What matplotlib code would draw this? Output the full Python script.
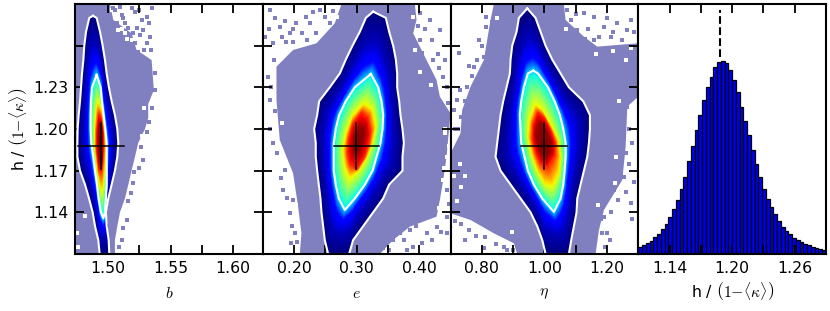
import numpy as np
import matplotlib
matplotlib.use('Agg')
import matplotlib.pyplot as plt

plt.rcParams['mathtext.fontset'] = 'cm'

PURPLE = '#8080c0'
LEVELS = [0.0, 0.33, 0.65, 0.87, 0.98]   # outer, inner, yellow, red, peak

# contour rows, one (left, right) per y
outer_y = [1.28, 1.27, 1.26, 1.25, 1.24, 1.23, 1.22, 1.21, 1.20, 1.19, 1.18, 1.17, 1.16, 1.15, 1.14, 1.13, 1.12, 1.11]

# --- b ---
b_outer_left = [1.4850, 1.4824, 1.4810, 1.4803, 1.4792, 1.4784, 1.4776, 1.4765, 1.4757, 1.4755, 1.4755, 1.4776, 1.4816, 1.4848, 1.4877, 1.4896, 1.4922, 1.4933]
b_outer_right = [1.4909, 1.4936, 1.4957, 1.4975, 1.4989, 1.5007, 1.5029, 1.5055, 1.5074, 1.5082, 1.5074, 1.5055, 1.5029, 1.5002, 1.4983, 1.4989, 1.5005, 1.5010]
b_outer_top = (1.4880, 1.2815)
b_inner_y = [1.23, 1.22, 1.21, 1.20, 1.19, 1.18, 1.17, 1.16, 1.15, 1.14]
b_inner_left = [1.4872, 1.4864, 1.4861, 1.4861, 1.4866, 1.4882, 1.4896, 1.4912, 1.4925, 1.4943]
b_inner_right = [1.4941, 1.4951, 1.4965, 1.4978, 1.4989, 1.4989, 1.4989, 1.4989, 1.4983, 1.4975]
b_inner_top = (1.4909, 1.2390)
b_inner_bottom = (1.4962, 1.1357)
b_yellow = [(1.4917, 1.2185), (1.4901, 1.2017), (1.4898, 1.1873), (1.4922, 1.1681), (1.4949, 1.1561), (1.4965, 1.1681), (1.4978, 1.1849), (1.4967, 1.1993), (1.4943, 1.2137)]
b_red = [(1.4928, 1.2101), (1.4914, 1.1969), (1.4914, 1.1849), (1.4930, 1.1717), (1.4946, 1.1705), (1.4957, 1.1849), (1.4957, 1.1969), (1.4943, 1.2065)]
b_peak = [(1.4936, 1.2029), (1.4928, 1.1921), (1.4933, 1.1801), (1.4946, 1.1753), (1.4951, 1.1873), (1.4949, 1.1969)]
b_cloud = [(1.4736, 1.29), (1.5015, 1.29), (1.5042, 1.2785), (1.5188, 1.2689), (1.5228, 1.2569), (1.5348, 1.2497), (1.5366, 1.2281), (1.5321, 1.2180), (1.5321, 1.2080), (1.5295, 1.20), (1.5241, 1.19), (1.5215, 1.18), (1.5188, 1.17), (1.5162, 1.16), (1.5135, 1.15), (1.5095, 1.14), (1.5074, 1.13), (1.5055, 1.12), (1.5055, 1.11), (1.4736, 1.11)]
b_dots = [(1.5055, 1.2857), (1.5108, 1.2821), (1.5135, 1.2761), (1.5201, 1.2689), (1.5268, 1.2785), (1.5308, 1.2809), (1.5348, 1.2869), (1.5281, 1.2713), (1.5215, 1.2617), (1.5162, 1.2593), (1.5335, 1.2665), (1.5241, 1.2557), (1.5188, 1.2869), (1.5095, 1.2881), (1.5374, 1.2281), (1.5308, 1.1981), (1.5281, 1.1777), (1.5201, 1.1609), (1.5148, 1.1345), (1.5090, 1.1153),
          (1.5040, 1.2870), (1.5075, 1.2760), (1.5120, 1.2800), (1.5160, 1.2730), (1.5230, 1.2730), (1.5255, 1.2680), (1.5310, 1.2620), (1.5345, 1.2570), (1.5290, 1.2570), (1.5215, 1.2840), (1.5250, 1.2860), (1.5330, 1.2760), (1.5375, 1.2400), (1.5350, 1.2150), (1.5330, 1.2050), (1.5260, 1.1870), (1.5245, 1.1720), (1.5210, 1.1690), (1.5185, 1.1540), (1.5160, 1.1480), (1.5120, 1.1290), (1.5110, 1.1200)]
b_holes = [(1.5029, 1.2857), (1.5069, 1.2785), (1.5135, 1.2689), (1.5188, 1.2641), (1.5082, 1.2713), (1.4816, 1.1373), (1.4763, 1.1153), (1.4755, 1.1249), (1.5155, 1.2650), (1.5115, 1.2720), (1.5230, 1.2620), (1.5290, 1.2150), (1.5270, 1.1950)]
b_center = (1.4941, 1.188)
b_err = (0.0184, 0.0165)

# --- e ---
e_outer_left = [.3147, .3051, .2934, .2827, .2731, .2571, .2401, .2369, .2321, .2347, .2347, .2369, .2395, .2422, .2438, .2465, .2491, .2545]
e_outer_right = [.3467, .3520, .3584, .3627, .3648, .3648, .3680, .3701, .3733, .3755, .3733, .3733, .3520, .3424, .3264, .3104, .2944, .2880]
e_outer_top = (.3264, 1.2845)
e_inner_y = [1.23, 1.22, 1.21, 1.20, 1.19, 1.18, 1.17, 1.16, 1.15]
e_inner_left = [.2971, .2827, .2721, .2667, .2635, .2635, .2635, .2667, .2715]
e_inner_right = [.3344, .3397, .3424, .3413, .3381, .3318, .3254, .3131, .2971]
e_inner_top = (.3227, 1.2396)
e_inner_bottom = (.2811, 1.1417)
e_yellow = [(.3115, 1.2174), (.2944, 1.2089), (.2848, 1.1969), (.2795, 1.1849), (.2827, 1.1729), (.2891, 1.1657), (.3024, 1.1705), (.3158, 1.1801), (.3238, 1.1897), (.3291, 1.2017), (.3238, 1.2137)]
e_red = [(.3078, 1.2113), (.2944, 1.2029), (.2880, 1.1921), (.2864, 1.1825), (.2902, 1.1753), (.2998, 1.1717), (.3115, 1.1801), (.3184, 1.1897), (.3211, 1.1981), (.3168, 1.2077)]
e_peak = [(.3051, 1.2005), (.2971, 1.1933), (.2960, 1.1849), (.3024, 1.1849), (.3104, 1.1933), (.3115, 1.1993)]
e_cloud = [(.2758, 1.29), (.3930, 1.29), (.3957, 1.2785), (.3904, 1.2689), (.4117, 1.2497), (.4277, 1.2353), (.4330, 1.2233), (.45, 1.2113), (.4437, 1.1801), (.4384, 1.1633), (.4330, 1.1489), (.4277, 1.1369), (.3851, 1.1297), (.3584, 1.1201), (.3371, 1.11), (.2092, 1.11), (.2118, 1.1249), (.2065, 1.1441), (.1985, 1.1681), (.1772, 1.1921), (.1719, 1.2209), (.1719, 1.2449), (.1985, 1.2569), (.2358, 1.2617), (.2651, 1.2761)]
e_dots = [(.1612, 1.2857), (.1772, 1.2737), (.1932, 1.2689), (.2038, 1.2761), (.2198, 1.2809), (.2411, 1.2857), (.2571, 1.2761), (.1665, 1.2617), (.1532, 1.2665), (.1878, 1.2629), (.2358, 1.2689), (.1585, 1.2377), (.1772, 1.2137), (.1665, 1.1897), (.1852, 1.1705), (.1932, 1.1393), (.2012, 1.1249), (.1985, 1.1489), (.1612, 1.2209), (.4010, 1.2833), (.4170, 1.2785), (.4330, 1.2713), (.4010, 1.2641), (.4224, 1.2497), (.4384, 1.2377), (.4117, 1.2425), (.4463, 1.2185), (.4357, 1.2089), (.3584, 1.1201), (.3851, 1.1273), (.4117, 1.1249), (.4277, 1.1297), (.3904, 1.1153), (.4437, 1.1369), (.3691, 1.1249), (.3424, 1.1141),
          (.1700, 1.2800), (.1850, 1.2780), (.1990, 1.2720), (.2120, 1.2690), (.2260, 1.2760), (.2490, 1.2810), (.2630, 1.2850), (.2300, 1.2840), (.1800, 1.2660), (.1600, 1.2720), (.1990, 1.2630), (.2200, 1.2640), (.1680, 1.2500), (.1630, 1.2300), (.1690, 1.2130), (.1610, 1.2000), (.1730, 1.1830), (.1790, 1.1650), (.1830, 1.1560), (.1890, 1.1500), (.1960, 1.1300), (.2040, 1.1190), (.1950, 1.1180), (.4100, 1.2720), (.4040, 1.2550), (.4210, 1.2640), (.4300, 1.2540), (.4420, 1.2500), (.4450, 1.2300), (.4310, 1.2440), (.3980, 1.2740), (.3750, 1.1200), (.3950, 1.1300), (.4050, 1.1180), (.4200, 1.1200), (.4350, 1.1260), (.4450, 1.1250), (.3520, 1.1130), (.3800, 1.1130), (.4440, 1.1560), (.4470, 1.1460)]
e_holes = [(.4410, 1.1969), (.4437, 1.1801), (.4384, 1.1633), (.4357, 1.1441), (.2038, 1.2617), (.3904, 1.2809), (.4420, 1.2000), (.4470, 1.1880), (.4400, 1.1720), (.4460, 1.1650), (.4310, 1.1430), (.2030, 1.1450), (.1800, 1.2040), (.2680, 1.2810), (.3930, 1.2570), (.4020, 1.2410), (.4190, 1.2320)]
e_center = (.2998, 1.188)
e_err = (0.0363, 0.0165)

# --- eta ---
n_outer_left = [.9185, .9111, .8972, .8919, .8897, .8791, .8684, .8599, .8546, .8492, .8439, .8599, .8919, .9239, .9558, .9772, .9932, 1.0038]
n_outer_right = [.9718, .9878, 1.0038, 1.0251, 1.0518, 1.0784, 1.1243, 1.1456, 1.1456, 1.1424, 1.1371, 1.1264, 1.1157, 1.1051, 1.1029, 1.0944, 1.0859, 1.0784]
n_outer_top = (.9452, 1.2868)
n_inner_y = [1.24, 1.23, 1.22, 1.21, 1.20, 1.19, 1.18, 1.17, 1.16, 1.15]
n_inner_left = [.9473, .9345, .9260, .9217, .9239, .9260, .9367, .9473, .9665, .9932]
n_inner_right = [.9793, 1.0113, 1.0326, 1.0496, 1.0603, 1.0678, 1.0678, 1.0646, 1.0603, 1.0518]
n_inner_top = (.9644, 1.2420)
n_inner_bottom = (1.0305, 1.1403)
n_yellow = [(.9718, 1.2166), (.9558, 1.2065), (.9505, 1.1945), (.9612, 1.1825), (.9793, 1.1705), (1.0038, 1.1609), (1.0251, 1.1597), (1.0433, 1.1681), (1.0496, 1.1801), (1.0411, 1.1921), (1.0145, 1.2041), (.9900, 1.2137)]
n_red = [(.9793, 1.2113), (.9665, 1.2029), (.9644, 1.1921), (.9750, 1.1825), (.9900, 1.1753), (1.0091, 1.1734), (1.0305, 1.1813), (1.0326, 1.1897), (1.0198, 1.1981), (.9985, 1.2077)]
n_peak = [(.9825, 1.2029), (.9750, 1.1945), (.9878, 1.1849), (1.0038, 1.1801), (1.0177, 1.1849), (1.0177, 1.1909), (1.0038, 1.1981), (.9900, 1.2029)]
n_cloud = [(.8386, 1.29), (1.0624, 1.29), (1.0678, 1.2785), (1.1264, 1.2665), (1.1690, 1.2593), (1.30, 1.2617), (1.30, 1.2233), (1.2650, 1.2161), (1.2597, 1.1873), (1.2490, 1.1633), (1.1904, 1.1417), (1.1744, 1.1273), (1.1637, 1.11), (.9132, 1.11), (.9025, 1.1177), (.8386, 1.1249), (.7640, 1.1345), (.70, 1.1393), (.70, 1.1825), (.7320, 1.1969), (.7373, 1.2137), (.7640, 1.2305), (.8066, 1.2497), (.8279, 1.2785)]
n_dots = [(.8333, 1.2773), (.8119, 1.2737), (.7906, 1.2641), (.8066, 1.2521), (.7746, 1.2449), (.7267, 1.2545), (.7533, 1.2305), (.7213, 1.2209), (.7320, 1.2089), (.7107, 1.2137), (1.0838, 1.2785), (1.1264, 1.2833), (1.1584, 1.2809), (1.1904, 1.2737), (1.2330, 1.2761), (1.2650, 1.2713), (1.1051, 1.2713), (1.1584, 1.2641), (1.2117, 1.2665), (1.2756, 1.2785), (1.0731, 1.2857), (.7426, 1.1517), (.7853, 1.1373), (.8279, 1.1325), (.7320, 1.1313), (.8706, 1.1153), (.8066, 1.1141), (1.1904, 1.1369), (1.2223, 1.1561), (1.2543, 1.1657), (1.2756, 1.1465), (1.2010, 1.1249), (1.1797, 1.1349), (1.2597, 1.1825), (1.2650, 1.2161),
          (.8150, 1.2810), (.8250, 1.2650), (.8000, 1.2600), (.7850, 1.2500), (.7700, 1.2380), (.7600, 1.2450), (.7450, 1.2200), (.7300, 1.2280), (.7150, 1.2000), (.7250, 1.2000), (1.1000, 1.2830), (1.1400, 1.2720), (1.1750, 1.2660), (1.2000, 1.2800), (1.2200, 1.2700), (1.2480, 1.2640), (1.2850, 1.2700), (1.1300, 1.2650), (.7150, 1.1340), (.7600, 1.1270), (.7800, 1.1230), (.8100, 1.1220), (.8450, 1.1170), (.8800, 1.1130), (.9000, 1.1130), (.7450, 1.1200), (1.1850, 1.1250), (1.1950, 1.1150), (1.2120, 1.1400), (1.2350, 1.1490), (1.2600, 1.1550), (1.2850, 1.1620), (1.2800, 1.1350), (1.2100, 1.1200), (1.2700, 1.2000), (1.2800, 1.1900), (1.2690, 1.1750)]
n_holes = [(1.2597, 1.2497), (1.2756, 1.2585), (.7320, 1.1585), (.7107, 1.1661), (1.2200, 1.2561), (.7200, 1.1480), (.7450, 1.1660), (.7300, 1.1750), (.8500, 1.2800), (1.0700, 1.2720), (1.1650, 1.2540), (1.2400, 1.2200), (1.2300, 1.1800), (1.2250, 1.1610), (1.1700, 1.1450), (.8950, 1.1260)]
n_center = (.9985, 1.188)
n_err = (0.0725, 0.0165)

# --- histogram ---
hist_edges_lo = 1.11
hist_edges_hi = 1.29
hist_values = [.038, .047, .059, .069, .086, .104, .130, .157, .190, .231, .280, .339, .401, .480, .560, .641, .718, .796, .867, .919, .971, .995, 1.0, .988, .953, .902, .841, .760, .691, .615, .539, .466, .397, .335, .285, .245, .206, .171, .142, .119, .102, .085, .073, .060, .052, .045, .038, .031, .028, .021]
hist_mark = 1.188

# ticks
y_ticks = [1.14, 1.17, 1.20, 1.23, 1.26]
y_labels = ['1.14', '1.17', '1.20', '1.23', '']
b_ticks = [1.50, 1.525, 1.55, 1.575, 1.60]
b_labels = ['1.50', '', '1.55', '', '1.60']
e_ticks = [0.20, 0.25, 0.30, 0.35, 0.40]
e_labels = ['0.20', '', '0.30', '', '0.40']
n_ticks = [0.80, 0.90, 1.00, 1.10, 1.20]
n_labels = ['0.80', '', '1.00', '', '1.20']
h_ticks = [1.14, 1.17, 1.20, 1.23, 1.26]
h_labels = ['1.14', '', '1.20', '', '1.26']
h_name = r'h / $\left(1{-}\langle\kappa\rangle\right)$'


def ring(y, left, right, top, bottom=None):
    # closed outline from the rows of a contour
    pts = [top] + list(zip(left, y))
    if bottom is not None:
        pts.append(bottom)
    pts += list(zip(right, y))[::-1]
    return np.array(pts)


def radius(pts, center, sx, sy, angles):
    # radius of a closed outline along fixed rays, in axes-like units
    pts = np.asarray(pts)
    closed = np.vstack([pts, pts[0]])
    t = np.arange(len(closed))
    fine = np.linspace(0, len(pts), len(pts) * 20, endpoint=False)
    dx = (np.interp(fine, t, closed[:, 0]) - center[0]) * sx
    dy = (np.interp(fine, t, closed[:, 1]) - center[1]) * sy
    return np.interp(angles, np.arctan2(dy, dx), np.hypot(dx, dy), period=2 * np.pi)


def density(ax, cloud, dots, holes, outer, inner, yellow, red, peak, center, err):
    ax.fill(*zip(*cloud), color=PURPLE, lw=0, zorder=1)
    ax.plot(*zip(*holes), 's', color='white', ms=2.2, mew=0, zorder=1.5)
    ax.plot(*zip(*dots), 's', color=PURPLE, ms=2.3, mew=0, zorder=1.5)

    xlim = ax.get_xlim()
    sx = 1 / (xlim[1] - xlim[0])
    sy = 1.33 / 0.18
    angles = np.linspace(-np.pi, np.pi, 721)
    radii = [radius(r, center, sx, sy, angles) for r in (outer, inner, yellow, red, peak)]
    radii.append(np.zeros_like(angles))
    # blue stays dark for most of the way from the outer to the inner contour
    knots = [0, 0.45, 0.8, 1, 2, 3, 4, 5]
    knot_vals = [LEVELS[0], 0.05, 0.14, LEVELS[1], LEVELS[2], LEVELS[3], LEVELS[4], 1.0]
    # gouraud blends colours, not values, so the radial steps must be small
    steps = np.linspace(0, 5, 151)
    R, Z = [], []
    for f in steps:
        k = min(int(f), 4)
        R.append(radii[k] + (radii[k + 1] - radii[k]) * (f - k))
        Z.append(np.full_like(angles, np.interp(f, knots, knot_vals)))
    R, Z = np.array(R), np.array(Z)
    X = center[0] + R * np.cos(angles) / sx
    Y = center[1] + R * np.sin(angles) / sy
    ax.pcolormesh(X, Y, Z, shading='gouraud', cmap='jet', vmin=0, vmax=1, zorder=3)

    for r in (outer, inner):
        ax.plot(np.r_[r[:, 0], r[0, 0]], np.r_[r[:, 1], r[0, 1]], color='white', lw=1.5, zorder=4)
    ax.plot([center[0] - err[0], center[0] + err[0]], [center[1], center[1]], color='black', lw=1.1, zorder=5)
    ax.plot([center[0], center[0]], [center[1] - err[1], center[1] + err[1]], color='black', lw=1.1, zorder=5)


fig, axes = plt.subplots(1, 4, figsize=(8.3, 3.11), dpi=100)
fig.subplots_adjust(left=75 / 830, right=826 / 830, top=1 - 4 / 311, bottom=1 - 254 / 311, wspace=0)

limits = [(1.4736, 1.6236), (0.15, 0.45), (0.70, 1.30), (1.11, 1.29)]
for ax, lim in zip(axes, limits):
    ax.set_xlim(lim)

density(axes[0], b_cloud, b_dots, b_holes,
        ring(outer_y, b_outer_left, b_outer_right, b_outer_top),
        ring(b_inner_y, b_inner_left, b_inner_right, b_inner_top, b_inner_bottom),
        b_yellow, b_red, b_peak, b_center, b_err)
density(axes[1], e_cloud, e_dots, e_holes,
        ring(outer_y, e_outer_left, e_outer_right, e_outer_top),
        ring(e_inner_y, e_inner_left, e_inner_right, e_inner_top, e_inner_bottom),
        e_yellow, e_red, e_peak, e_center, e_err)
density(axes[2], n_cloud, n_dots, n_holes,
        ring(outer_y, n_outer_left, n_outer_right, n_outer_top),
        ring(n_inner_y, n_inner_left, n_inner_right, n_inner_top, n_inner_bottom),
        n_yellow, n_red, n_peak, n_center, n_err)

# histogram panel
width = (hist_edges_hi - hist_edges_lo) / len(hist_values)
centers = hist_edges_lo + width * (np.arange(len(hist_values)) + 0.5)
axes[3].bar(centers, hist_values, width=width, color='#0000f0', edgecolor='black', linewidth=0.9)
axes[3].plot([hist_mark, hist_mark], [1.02, 1.265], '--', color='black', lw=1.5)
axes[3].set_ylim(0, 1.295)
axes[3].set_yticks([])

tick_sets = [(b_ticks, b_labels, r'$b$'), (e_ticks, e_labels, r'$e$'), (n_ticks, n_labels, r'$\eta$'), (h_ticks, h_labels, h_name)]
for i, (ax, (ticks, labels, name)) in enumerate(zip(axes, tick_sets)):
    ax.set_xticks(ticks)
    ax.set_xticklabels(labels)
    ax.set_xlabel(name, fontsize=11.3, labelpad=7 if i < 3 else 3)
    if i < 3:
        ax.set_ylim(1.11, 1.29)
        ax.set_yticks(y_ticks)
        ax.set_yticklabels(y_labels if i == 0 else [])
    ax.tick_params(direction='in', length=6.5, width=1.3, top=True, right=i < 3, labelsize=11.3, pad=5)
    ax.set_axisbelow(False)
    for sp in ax.spines.values():
        sp.set_linewidth(1.5)
        sp.set_zorder(10)

axes[0].set_ylabel(h_name, fontsize=11.3, labelpad=3)

fig.savefig('out.png', dpi=100)
